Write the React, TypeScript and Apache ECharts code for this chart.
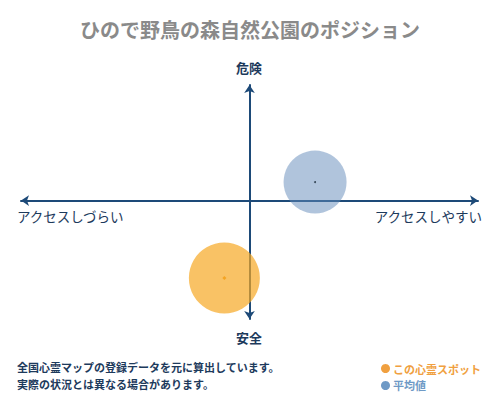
import React, { useEffect, useRef } from "react";
import * as echarts from "echarts";

const titleText = "ひので野鳥の森自然公園のポジション";
const seriesNames = ["この心霊スポット", "平均値"];
const xValues = [-1.1, 2.87];
const yValues = [-6.7, 1.6];
const bubbleSizes = [71, 63];
const axisLabels = { top: "危険", bottom: "安全", left: "アクセスしづらい", right: "アクセスしやすい" };
const footnotes = ["全国心霊マップの登録データを元に算出しています。", "実際の状況とは異なる場合があります。"];

const FONT = "'Noto Sans CJK JP', sans-serif";
const AXIS_COLOR = "#1d4a78";
const ORANGE = "#f7a823";
const BLUE = "#6189b9";

export default function App() {
  const ref = useRef<HTMLDivElement>(null);
  useEffect(() => {
    if (!ref.current) return;
    const chart = echarts.init(ref.current, undefined, { renderer: "svg" });
    const colors = [ORANGE, BLUE];
    const dotColors = ["#f39c12", "#1a2a3a"];
    const dotSizes = [4, 2];
    const bubbles = seriesNames.map((name, i) => ({
      name,
      type: "scatter",
      z: 3,
      symbol: "circle",
      symbolSize: bubbleSizes[i],
      itemStyle: { color: colors[i], opacity: i === 0 ? 0.7 : 0.5 },
      data: [[xValues[i], yValues[i]]],
    }));
    const dots = seriesNames.map((name, i) => ({
      name: name + "_dot",
      type: "scatter",
      z: 4,
      symbol: i === 0 ? "diamond" : "circle",
      symbolSize: dotSizes[i],
      itemStyle: { color: dotColors[i] },
      data: [[xValues[i], yValues[i]]],
      silent: true,
    }));
    const axisCommon = {
      type: "value",
      min: -10,
      max: 10,
      axisTick: { show: false },
      axisLabel: { show: false },
      splitLine: { show: false },
      axisLine: {
        show: true,
        onZero: true,
        symbol: ["arrow", "arrow"],
        symbolSize: [8, 8],
        lineStyle: { color: AXIS_COLOR, width: 2 },
      },
    };
    chart.setOption({
      animation: false,
      textStyle: { fontFamily: FONT },
      title: {
        text: titleText,
        left: "center",
        top: 14,
        textStyle: { fontFamily: FONT, fontSize: 20, fontWeight: "bold", color: "#8a8a8a" },
      },
      grid: { left: 21, right: 22, top: 85, bottom: 81 },
      xAxis: { ...axisCommon },
      yAxis: { ...axisCommon, min: -10.25 },
      legend: {
        orient: "vertical",
        left: 376,
        top: 358,
        itemWidth: 9,
        itemHeight: 9,
        itemGap: 6,
        icon: "circle",
        data: [
          { name: seriesNames[0], itemStyle: { color: "#f0a040", opacity: 1 }, textStyle: { color: "#f0a040" } },
          { name: seriesNames[1], itemStyle: { color: "#6f9ac6", opacity: 1 }, textStyle: { color: "#6f9ac6" } },
        ],
        textStyle: { fontFamily: FONT, fontSize: 11, fontWeight: "bold", padding: [0, 0, 0, -2] },
        selectedMode: false,
      },
      graphic: [
        { type: "text", x: 249, y: 67, style: { text: axisLabels.top, font: `bold 13px ${FONT}`, fill: "#1d3a5c", align: "center", verticalAlign: "middle" } },
        { type: "text", x: 249, y: 337, style: { text: axisLabels.bottom, font: `bold 13px ${FONT}`, fill: "#1d3a5c", align: "center", verticalAlign: "middle" } },
        { type: "text", x: 17, y: 216, style: { text: axisLabels.left, font: `13.5px ${FONT}`, fill: "#1d3a5c", align: "left", verticalAlign: "middle" } },
        { type: "text", x: 482, y: 216, style: { text: axisLabels.right, font: `13.5px ${FONT}`, fill: "#1d3a5c", align: "right", verticalAlign: "middle" } },
        { type: "text", x: 17, y: 367, style: { text: footnotes[0], font: `bold 11px ${FONT}`, fill: "#1d3a5c", align: "left", verticalAlign: "middle" } },
        { type: "text", x: 17, y: 384, style: { text: footnotes[1], font: `bold 11px ${FONT}`, fill: "#1d3a5c", align: "left", verticalAlign: "middle" } },
      ],
      series: [...bubbles, ...dots],
    });
    return () => chart.dispose();
  }, []);
  return <div ref={ref} style={{ width: 500, height: 400, position: "absolute", left: 0, top: 0 }} />;
}
